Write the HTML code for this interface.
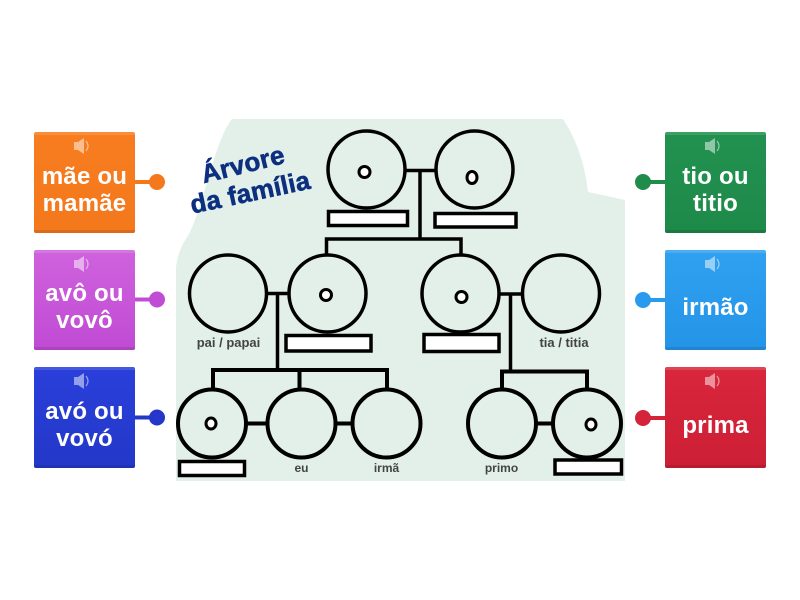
<!DOCTYPE html>
<html><head><meta charset="utf-8"><style>
html,body{margin:0;padding:0;background:#fff}
svg{display:block}
.c{font-family:"Liberation Sans",sans-serif;font-weight:700;font-size:24px;fill:#fff;text-anchor:middle;letter-spacing:.2px}
.l{font-family:"Liberation Sans",sans-serif;font-weight:700;font-size:12px;fill:#444;text-anchor:middle}
.m{font-size:13px}
.t{font-family:"Liberation Sans",sans-serif;font-weight:700;font-size:26px;fill:#0d2f7f;stroke:#0d2f7f;stroke-width:.6;text-anchor:middle;letter-spacing:.2px}
.k{fill:none;stroke:#000;stroke-width:3.5}
.n{fill:none;stroke:#000;stroke-width:4}
.b{fill:#fff;stroke:#000;stroke-width:3.500}
.d{fill:#fff;stroke:#000;stroke-width:3}
</style></head><body>
<svg width="800" height="600" viewBox="0 0 800 600" xmlns="http://www.w3.org/2000/svg">
<defs>
<linearGradient id="o" x1="0" y1="0" x2="0" y2="1"><stop offset="0" stop-color="#f77d20"/><stop offset="1" stop-color="#f4781c"/></linearGradient>
<linearGradient id="p" x1="0" y1="0" x2="0" y2="1"><stop offset="0" stop-color="#cf62dd"/><stop offset="1" stop-color="#c04bd4"/></linearGradient>
<linearGradient id="b" x1="0" y1="0" x2="0" y2="1"><stop offset="0" stop-color="#2a3fda"/><stop offset="1" stop-color="#2338c8"/></linearGradient>
<linearGradient id="g" x1="0" y1="0" x2="0" y2="1"><stop offset="0" stop-color="#22914f"/><stop offset="1" stop-color="#1e8a4a"/></linearGradient>
<linearGradient id="s" x1="0" y1="0" x2="0" y2="1"><stop offset="0" stop-color="#30a0f0"/><stop offset="1" stop-color="#2494e8"/></linearGradient>
<linearGradient id="r" x1="0" y1="0" x2="0" y2="1"><stop offset="0" stop-color="#d9263c"/><stop offset="1" stop-color="#cc1f35"/></linearGradient>
<g id="sp"><path d="M-8 -4h4l6 -4v16l-6 -4h-4z" fill="#fff" opacity=".5"/><path d="M4 -5q4 5 0 10" fill="none" stroke="#fff" stroke-width="1.2" opacity=".5"/></g>
<g id="band"><rect x="0" y="0" width="101" height="3" fill="#fff" opacity=".13"/></g>
<g id="band2"><rect x="0" y="0" width="101" height="3" fill="#000" opacity=".1"/></g>
</defs>

<!-- background blob -->
<path d="M176 481V268C178 248 186 240 190 232C205 200 215 140 232 119H563C577 140 585 165 588 192L625 200V481Z" fill="#e2f0e9"/>

<!-- connectors -->
<g class="k">
<path d="M405 170.500H435M420 170V239M326.500 254V239H461V254"/>
<path d="M268 293.500H288M277.500 293.500V370M500 294H521M510.500 294V372"/>
</g>
<g class="n">
<path d="M213 389V370H387V389M299.500 370V389M247 423.500H267M336 423.500H352"/>
<path d="M502 389V371.500H587V389M537 423.500H552"/>
</g>

<!-- circles -->
<g class="k">
<circle cx="366.500" cy="169.500" r="38.500"/><circle cx="474.500" cy="169.500" r="38.500"/>
<circle cx="228" cy="293.500" r="38.500"/><circle cx="327.500" cy="293.500" r="38.500"/>
<circle cx="460.500" cy="293.500" r="38.500"/><circle cx="561" cy="293.500" r="38.500"/>
</g>
<g class="n">
<circle cx="212" cy="423.500" r="34"/><circle cx="301.500" cy="423.500" r="34"/><circle cx="386.500" cy="423.500" r="34"/>
<circle cx="502" cy="423.500" r="34"/><circle cx="587" cy="423.500" r="34"/>
</g>

<!-- dots -->
<circle class="d" cx="364.500" cy="172" r="5.500"/><ellipse class="d" cx="472" cy="177.500" rx="5" ry="6"/>
<circle class="d" cx="326" cy="295" r="5.500"/><circle class="d" cx="461.500" cy="297" r="5.500"/>
<ellipse class="d" cx="211" cy="423.500" rx="5" ry="5.500"/><ellipse class="d" cx="591" cy="424.500" rx="5" ry="5.500"/>

<!-- answer boxes -->
<rect class="b" x="328.500" y="211.500" width="79" height="14"/>
<rect class="b" x="435" y="213.500" width="81" height="13.500"/>
<rect class="b" x="286" y="335.500" width="85" height="15.500"/>
<rect class="b" x="424" y="334.500" width="75" height="17"/>
<rect class="b" x="179.500" y="461.500" width="65" height="14"/>
<rect class="b" x="555" y="460" width="66.500" height="14"/>

<!-- labels -->
<text class="l m" x="228.500" y="347">pai / papai</text>
<text class="l m" x="564" y="347">tia / titia</text>
<text class="l" x="301.500" y="472">eu</text>
<text class="l" x="386.500" y="472">irmã</text>
<text class="l" x="501.500" y="472">primo</text>

<!-- title -->
<text class="t" transform="translate(245 173) rotate(-14)">Árvore</text>
<text class="t" transform="translate(252 201) rotate(-12)">da família</text>

<!-- left cards -->
<g>
<path d="M135 182H152" stroke="#f4781c" stroke-width="4"/><circle cx="157" cy="182" r="8" fill="#f4781c"/>
<rect x="34" y="132" width="101" height="101" rx="2" fill="url(#o)"/>
<use href="#band" x="34" y="132"/><use href="#band2" x="34" y="230"/>
<use href="#sp" x="82" y="146"/>
<text class="c" x="84.500" y="184">mãe ou</text><text class="c" x="84.500" y="211">mamãe</text>

<path d="M135 299.500H152" stroke="#c04bd4" stroke-width="4"/><circle cx="157" cy="299.500" r="8" fill="#c04bd4"/>
<rect x="34" y="250" width="101" height="100" rx="2" fill="url(#p)"/>
<use href="#band" x="34" y="250"/><use href="#band2" x="34" y="347"/>
<use href="#sp" x="82" y="264"/>
<text class="c" x="84.500" y="301">avô ou</text><text class="c" x="84.500" y="328">vovô</text>

<path d="M135 417.500H152" stroke="#2537c8" stroke-width="4"/><circle cx="157" cy="417.500" r="8" fill="#2537c8"/>
<rect x="34" y="367" width="101" height="101" rx="2" fill="url(#b)"/>
<use href="#band" x="34" y="367"/><use href="#band2" x="34" y="465"/>
<use href="#sp" x="82" y="381"/>
<text class="c" x="84.500" y="419">avó ou</text><text class="c" x="84.500" y="446">vovó</text>
</g>

<!-- right cards -->
<g>
<path d="M648 182H665" stroke="#1f8c4b" stroke-width="4"/><circle cx="643" cy="182" r="8" fill="#1f8c4b"/>
<rect x="665" y="132" width="101" height="101" rx="2" fill="url(#g)"/>
<use href="#band" x="665" y="132"/><use href="#band2" x="665" y="230"/>
<use href="#sp" x="713" y="146"/>
<text class="c" x="715.500" y="184">tio ou</text><text class="c" x="715.500" y="211">titio</text>

<path d="M648 300H665" stroke="#2a9aee" stroke-width="4"/><circle cx="643" cy="300" r="8" fill="#2a9aee"/>
<rect x="665" y="250" width="101" height="100" rx="2" fill="url(#s)"/>
<use href="#band" x="665" y="250"/><use href="#band2" x="665" y="347"/>
<use href="#sp" x="713" y="264"/>
<text class="c" x="715.500" y="315">irmão</text>

<path d="M648 418H665" stroke="#d3243a" stroke-width="4"/><circle cx="643" cy="418" r="8" fill="#d3243a"/>
<rect x="665" y="367" width="101" height="101" rx="2" fill="url(#r)"/>
<use href="#band" x="665" y="367"/><use href="#band2" x="665" y="465"/>
<use href="#sp" x="713" y="381"/>
<text class="c" x="715.500" y="433">prima</text>
</g>
</svg>
</body></html>
